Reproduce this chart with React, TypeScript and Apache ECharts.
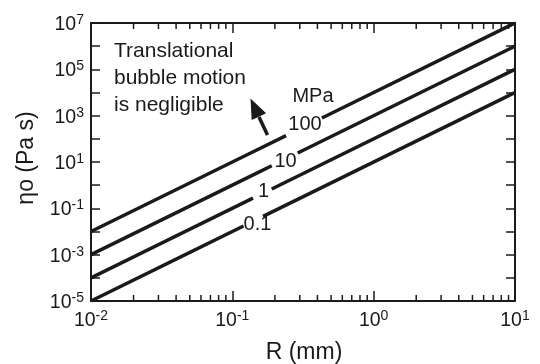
import React, { useEffect, useRef } from "react";
import * as echarts from "echarts";

// Pressure labels (MPa) for the four curves
const pressureLabels = ["100", "10", "1", "0.1"];

// Each curve: two drawn pieces of [R (mm), eta0 (Pa s)] points, with a gap left for the label
const curve100: number[][][] = [[[0.01, 0.01], [0.24, 138]], [[0.43, 795], [10, 1e7]]];
const curve10: number[][][] = [[[0.01, 0.001], [0.19, 6.9]], [[0.29, 24.4], [10, 1e6]]];
const curve1: number[][][] = [[[0.01, 0.0001], [0.14, 0.274]], [[0.19, 0.686], [10, 1e5]]];
const curve01: number[][][] = [[[0.01, 0.00001], [0.12, 0.0173]], [[0.165, 0.0449], [10, 1e4]]];

// Axis ranges and minor ticks of the R axis
const xRange = [0.01, 10];
const yRange = [1e-5, 1e7];
const xMinorTicks = [
  0.02, 0.03, 0.04, 0.05, 0.06, 0.07, 0.08, 0.09,
  0.2, 0.3, 0.4, 0.5, 0.6, 0.7, 0.8, 0.9,
  2, 3, 4, 5, 6, 7, 8, 9,
];

const noteText = "Translational\nbubble motion\nis negligible";
const unitText = "MPa";
const xName = "R (mm)";
const yName = "ηo (Pa s)";

const FONT = '"Liberation Sans", Arial, sans-serif';
const INK = "#1a1a1a";

const richLabel = {
  m: { fontSize: 19.5, fontFamily: FONT, color: INK, lineHeight: 22 },
  s: { fontSize: 14, fontFamily: FONT, color: INK, verticalAlign: "top" as const, lineHeight: 14 },
};

export default function App() {
  const ref = useRef<HTMLDivElement>(null);
  useEffect(() => {
    if (!ref.current) return;
    const chart = echarts.init(ref.current, undefined, { renderer: "svg" });

    const axisCommon = {
      type: "log" as const,
      logBase: 10,
      interval: 1,
      axisLine: { show: true, onZero: false, lineStyle: { color: INK, width: 2 } },
      splitLine: { show: false },
      minorTick: { show: false },
    };

    const curves = [curve100, curve10, curve1, curve01];
    const lineSeries = curves.flatMap((c) =>
      c.map((piece) => ({
        type: "line" as const,
        data: piece,
        showSymbol: false,
        lineStyle: { color: INK, width: 3.5 },
        xAxisIndex: 0,
        yAxisIndex: 0,
        z: 3,
      }))
    );

    const labelPos = [
      [305, 122.5],
      [285.5, 159.5],
      [263.5, 189.5],
      [257.5, 222.5],
    ];

    const tip = [250.5, 98.5];
    const tail = [267.5, 135];

    chart.setOption({
      animation: false,
      grid: { left: 91, right: 25, top: 23, bottom: 63, containLabel: false },
      xAxis: [
        {
          ...axisCommon,
          position: "bottom",
          min: xRange[0],
          max: xRange[1],
          axisTick: { show: true, inside: true, length: 10, lineStyle: { color: INK, width: 1.5 } },
          axisLabel: {
            margin: 7,
            formatter: (v: number) => `{m|10}{s|${Math.round(Math.log10(v))}}`,
            rich: richLabel,
          },
        },
        {
          ...axisCommon,
          position: "top",
          min: xRange[0],
          max: xRange[1],
          axisTick: { show: true, inside: true, length: 10, lineStyle: { color: INK, width: 1.5 } },
          axisLabel: { show: false },
        },
      ],
      yAxis: [
        {
          ...axisCommon,
          position: "left",
          min: yRange[0],
          max: yRange[1],
          axisTick: { show: true, inside: true, length: 9, lineStyle: { color: INK, width: 1.5 } },
          axisLabel: {
            margin: 7,
            formatter: (v: number) => {
              const e = Math.round(Math.log10(v));
              return Math.abs(e % 2) === 1 ? `{m|10}{s|${e}}` : "";
            },
            rich: richLabel,
          },
        },
        {
          ...axisCommon,
          position: "right",
          min: yRange[0],
          max: yRange[1],
          axisTick: { show: true, inside: true, length: 9, lineStyle: { color: INK, width: 1.5 } },
          axisLabel: { show: false },
        },
      ],
      series: [
        ...lineSeries,
        {
          type: "custom",
          xAxisIndex: 0,
          yAxisIndex: 0,
          clip: false,
          silent: true,
          data: xMinorTicks.map((r) => [r, 1]),
          renderItem: (_params: any, api: any) => {
            const r = api.value(0);
            const b = api.coord([r, yRange[0]]);
            const t = api.coord([r, yRange[1]]);
            const st = { stroke: INK, lineWidth: 1.5 };
            return {
              type: "group",
              children: [
                { type: "line", shape: { x1: b[0], y1: b[1], x2: b[0], y2: b[1] - 6 }, style: st },
                { type: "line", shape: { x1: t[0], y1: t[1], x2: t[0], y2: t[1] + 6 }, style: st },
              ],
            };
          },
        },
      ],
      graphic: [
        {
          type: "text",
          x: 114,
          y: 35.5,
          style: {
            text: noteText,
            font: `21px ${FONT}`,
            lineHeight: 27,
            fill: INK,
            verticalAlign: "top",
          },
        },
        {
          type: "line",
          shape: { x1: tail[0], y1: tail[1], x2: 259, y2: 117 },
          style: { stroke: INK, lineWidth: 3.5 },
        },
        {
          type: "polygon",
          shape: { points: [tip, [266.1, 113.2], [251.7, 120.0]] },
          style: { fill: INK },
        },
        {
          type: "text",
          x: 313,
          y: 95,
          style: { text: unitText, font: `20px ${FONT}`, fill: INK, align: "center", verticalAlign: "middle" },
        },
        ...pressureLabels.map((t, i) => ({
          type: "text",
          x: labelPos[i][0],
          y: labelPos[i][1],
          style: { text: t, font: `20px ${FONT}`, fill: INK, align: "center", verticalAlign: "middle" },
        })),
        {
          type: "text",
          x: 304,
          y: 351,
          style: { text: xName, font: `23px ${FONT}`, fill: INK, align: "center", verticalAlign: "middle" },
        },
        {
          type: "text",
          x: 25,
          y: 158,
          rotation: Math.PI / 2,
          style: { text: yName, font: `23px ${FONT}`, fill: INK, align: "center", verticalAlign: "middle" },
        },
      ],
    });
    return () => chart.dispose();
  }, []);
  return <div ref={ref} style={{ position: "fixed", left: 0, top: 0, width: 540, height: 364 }} />;
}
